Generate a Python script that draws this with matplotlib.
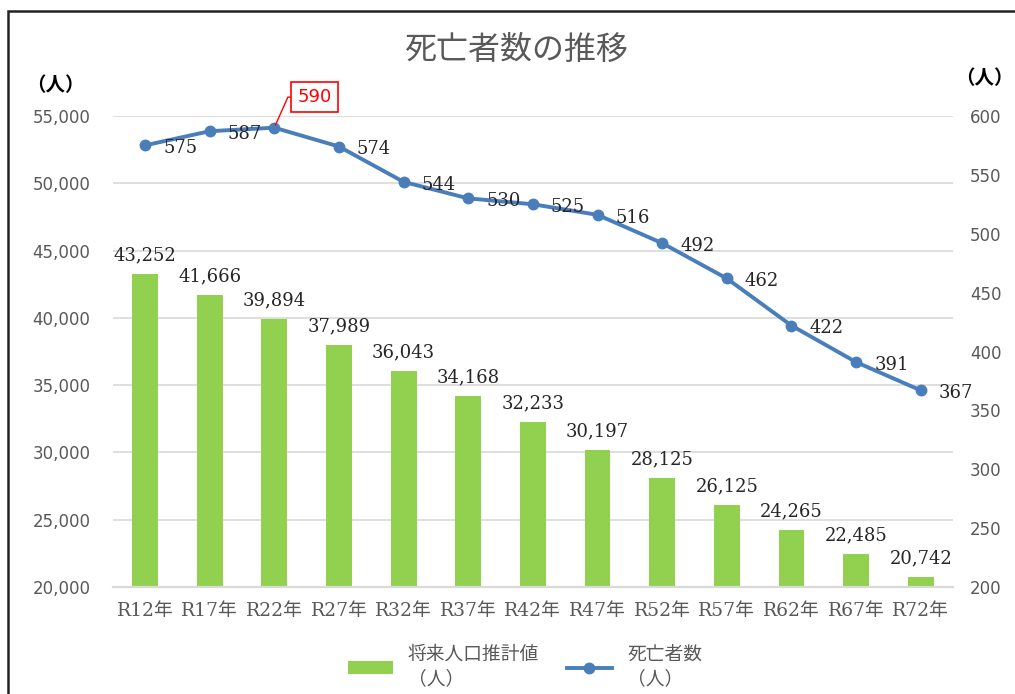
import matplotlib
matplotlib.use("Agg")
import matplotlib.pyplot as plt
import matplotlib.patches as patches
import numpy as np

# ------------------------------
# Data
# ------------------------------
years = ["R12年", "R17年", "R22年", "R27年", "R32年", "R37年", "R42年",
         "R47年", "R52年", "R57年", "R62年", "R67年", "R72年"]
population = [43252, 41666, 39894, 37989, 36043, 34168, 32233,
              30197, 28125, 26125, 24265, 22485, 20742]
deaths = [575, 587, 590, 574, 544, 530, 525, 516, 492, 462, 422, 391, 367]

plt.rcParams['font.family'] = ['Noto Sans CJK JP', 'DejaVu Sans']

bar_color = "#92d050"
line_color = "#4a7ebb"
tick_color = "#595959"
grid_color = "#d9d9d9"
serif = ['DejaVu Serif', 'Noto Sans CJK JP']

fig = plt.figure(figsize=(10.15, 6.94), dpi=100)
ax = fig.add_axes([0.111, 0.154, 0.828, 0.679])
ax2 = ax.twinx()

x = np.arange(len(years))

# bars
bars = ax.bar(x, population, width=0.4, color=bar_color, zorder=2,
              label="将来人口推計値\n（人）")
ax.set_ylim(20000, 55000)
ax.set_yticks(np.arange(20000, 55001, 5000))
ax.set_yticklabels([f"{v:,}" for v in range(20000, 55001, 5000)],
                   family='DejaVu Sans')
ax.set_xlim(-0.5, len(years) - 0.5)
ax.set_xticks(x)
ax.set_xticklabels(years, family=serif)
ax.grid(axis='y', color=grid_color, linewidth=1.2, zorder=0)
ax.set_axisbelow(True)

for xi, v in zip(x, population):
    ax.annotate(f"{v:,}", (xi, v), xytext=(0, 7), textcoords='offset points',
                ha='center', va='bottom', fontsize=13, family=serif,
                color="#262626")

# line
ax2.plot(x, deaths, color=line_color, linewidth=2.8, marker='o',
         markersize=7.5, zorder=3, label="死亡者数\n（人）")
ax2.set_ylim(200, 600)
ax2.set_yticks(np.arange(200, 601, 50))
ax2.set_yticklabels([str(v) for v in range(200, 601, 50)], family='DejaVu Sans')

peak = int(np.argmax(deaths))
for xi, v in zip(x, deaths):
    if xi == peak:
        ax2.annotate(str(v), (xi, v), xytext=(29, 22), textcoords='offset points',
                     ha='center', va='center', fontsize=13, color='red',
                     family='DejaVu Sans',
                     bbox=dict(boxstyle='square,pad=0.35', fc='white', ec='red', lw=1.2),
                     arrowprops=dict(arrowstyle='-', color='red', lw=1.0,
                                     shrinkA=0, shrinkB=2,
                                     connectionstyle='angle,angleA=0,angleB=66,rad=0'))
    else:
        ax2.annotate(str(v), (xi, v), xytext=(13, -2), textcoords='offset points',
                     ha='left', va='center', fontsize=13, family=serif,
                     color="#262626")

for a in (ax, ax2):
    for side in ('top', 'left', 'right'):
        a.spines[side].set_visible(False)
    a.spines['bottom'].set_color(grid_color)
    a.spines['bottom'].set_linewidth(1.5)
    a.tick_params(length=0, labelsize=12, colors=tick_color)
ax.tick_params(axis='x', pad=11, labelsize=13.5)
ax.tick_params(axis='y', pad=16)
ax2.tick_params(axis='y', pad=12)

# axis unit labels
fig.text(0.055, 0.877, "（人）", ha='center', va='center', fontsize=14,
         fontweight='bold', color='black')
fig.text(0.970, 0.887, "（人）", ha='center', va='center', fontsize=14,
         fontweight='bold', color='black')

# title
fig.text(0.508, 0.928, "死亡者数の推移", ha='center', va='center', fontsize=23,
         color=tick_color)

# legend
h1, l1 = ax.get_legend_handles_labels()
h2, l2 = ax2.get_legend_handles_labels()
fig.legend(h1 + h2, l1 + l2, loc='center', bbox_to_anchor=(0.517, 0.04), ncol=2,
           frameon=False, fontsize=13.5, labelcolor=tick_color, handlelength=2.4,
           columnspacing=1.5)

# outer frame
fig.patches.append(patches.Rectangle((0.008, -0.5), 2, 1.484, transform=fig.transFigure,
                                     fill=False, ec='#222222', lw=1.8))

plt.savefig("out.png", dpi=100)
